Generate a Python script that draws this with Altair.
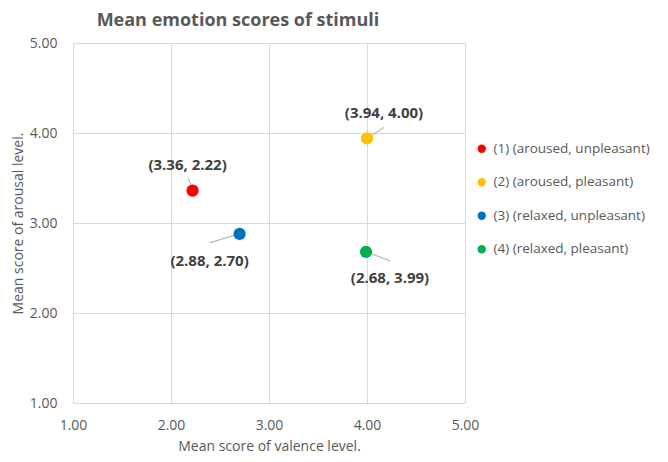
import altair as alt
import pandas as pd

names = ["(1) (aroused, unpleasant)", "(2) (aroused, pleasant)",
         "(3) (relaxed, unpleasant)", "(4) (relaxed, pleasant)"]
valence = [2.22, 4.00, 2.70, 3.99]
arousal = [3.36, 3.94, 2.88, 2.68]
labels = ["(3.36, 2.22)", "(3.94, 4.00)", "(2.88, 2.70)", "(2.68, 3.99)"]
colors = ["#FF0000", "#FFC000", "#0070C0", "#00B050"]
ticks = [1, 2, 3, 4, 5]

# label / leader-line pixel offsets (style)
label_dx = [-5, 17, -30, 24]
label_dy = [-26, -25, 27, 26]
leader_dx = [-4, 17, -30, 24]
leader_dy = [-12, -11, 9, 9]

FONT = "Open Sans"
GRAY = "#595959"

df = pd.DataFrame({"name": names, "valence": valence, "arousal": arousal, "label": labels})

xscale = alt.Scale(domain=[1, 5], nice=False, zero=False)
yscale = alt.Scale(domain=[1, 5], nice=False, zero=False)

xenc = alt.X("valence:Q", scale=xscale, axis=alt.Axis(
    values=ticks, format=".2f", title="Mean score of valence level.",
    grid=True, gridColor="#D9D9D9", domain=False, ticks=False, tickSize=0, labelFlush=False,
    labelFont=FONT, labelFontSize=14, labelColor=GRAY, labelPadding=15,
    titleFont=FONT, titleFontSize=14, titleFontWeight="normal", titleColor=GRAY, titlePadding=7))
yenc = alt.Y("arousal:Q", scale=yscale, axis=alt.Axis(
    values=ticks, format=".2f", title="Mean score of arousal level.",
    grid=True, gridColor="#D9D9D9", domain=False, ticks=False, tickSize=0, labelFlush=False,
    labelFont=FONT, labelFontSize=14, labelColor=GRAY, labelPadding=16,
    titleFont=FONT, titleFontSize=14, titleFontWeight="normal", titleColor=GRAY, titlePadding=4))

layers = []
for i in range(len(names)):
    sub = df.iloc[[i]]
    layers.append(
        alt.Chart(sub).mark_rule(color="#A6A6A6", strokeWidth=1,
                                 x2Offset=leader_dx[i], y2Offset=leader_dy[i]).encode(
            x=xenc, y=yenc, x2="valence:Q", y2="arousal:Q")
    )

points = alt.Chart(df).mark_circle(size=150, opacity=1).encode(
    x=xenc, y=yenc,
    color=alt.Color("name:N", scale=alt.Scale(domain=names, range=colors),
                    legend=alt.Legend(title=None, orient="none", legendX=402, legendY=99,
                                      symbolType="circle", symbolSize=70, symbolStrokeWidth=0,
                                      labelFont=FONT, labelFontSize=13.5, labelColor=GRAY,
                                      labelOffset=5, rowPadding=18.5, padding=0, labelLimit=300))
)
layers.append(points)

for i in range(len(names)):
    sub = df.iloc[[i]]
    layers.append(
        alt.Chart(sub).mark_text(font=FONT, fontSize=15, fontWeight="bold", color="#404040",
                                 dx=label_dx[i], dy=label_dy[i], align="center", baseline="middle").encode(
            x=xenc, y=yenc, text="label:N")
    )

chart = alt.layer(*layers).properties(
    width=392, height=360,
    title=alt.TitleParams("Mean emotion scores of stimuli", font=FONT, fontSize=18,
                          fontWeight="bold", color=GRAY, anchor="middle", dx=-31, offset=6),
    autosize=alt.AutoSizeParams(type="none"),
    padding={"left": 65, "top": 35, "right": 195, "bottom": 51},
).configure_view(stroke=None)

chart.save("out.html", embed_options={"renderer": "svg", "actions": False})
